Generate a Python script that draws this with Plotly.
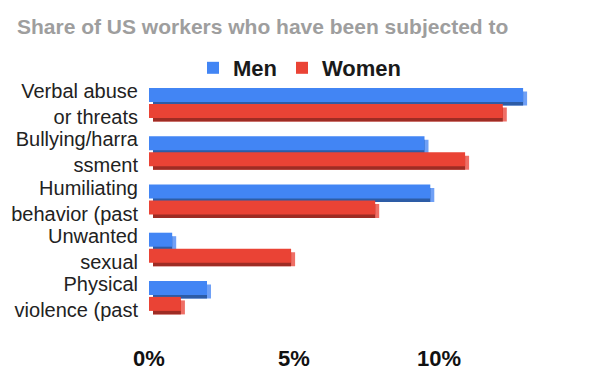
import plotly.graph_objects as go

# ---- data ----
categories = [
    "Verbal abuse<br>or threats",
    "Bullying/harra<br>ssment",
    "Humiliating<br>behavior (past",
    "Unwanted<br>sexual",
    "Physical<br>violence (past",
]
men = [12.9, 9.5, 9.7, 0.8, 2.0]
women = [12.2, 10.9, 7.8, 4.9, 1.1]
series_names = ["Men", "Women"]
tick_vals = [0, 5, 10]
tick_text = ["0%", "5%", "10%"]

# ---- styling ----
FONT = "Liberation Sans, Arial, sans-serif"
front_colors = ["#4285F4", "#EA4335"]
side_colors = ["#6FA0F6", "#EF6F66"]
bottom_colors = ["#2D5CA6", "#9E2C24"]

W, H = 600, 371
ML, MR, MT, MB = 149, 16, 80, 50
XMAX = 15
px_x = (W - ML - MR) / XMAX          # pixels per percent
px_y = (H - MT - MB) / len(categories)  # pixels per category band

depth_x = 4 / px_x      # extrusion to the right (data units)
depth_y = 3.5 / px_y    # extrusion downwards (category units)
bar_w = 14 / px_y
offsets = [-16 / px_y, 0.0]

fig = go.Figure()
for i, (name, vals) in enumerate(zip(series_names, [men, women])):
    off = offsets[i]
    # side face (lighter)
    fig.add_trace(go.Bar(
        y=categories, x=vals, base=[depth_x] * len(vals), orientation="h",
        offset=off + depth_y, width=bar_w, marker=dict(color=side_colors[i], line=dict(width=0)),
        showlegend=False, hoverinfo="skip"))
    # bottom face (darker)
    fig.add_trace(go.Bar(
        y=categories, x=[max(v - depth_x, 0) for v in vals], base=[depth_x] * len(vals),
        orientation="h", offset=off + depth_y, width=bar_w,
        marker=dict(color=bottom_colors[i], line=dict(width=0)),
        showlegend=False, hoverinfo="skip"))
    # front face
    fig.add_trace(go.Bar(
        y=categories, x=vals, orientation="h", name=name,
        offset=off, width=bar_w, marker=dict(color=front_colors[i], line=dict(width=0))))

fig.update_layout(
    width=W, height=H,
    margin=dict(l=ML, r=MR, t=MT, b=MB, autoexpand=False),
    barmode="overlay",
    paper_bgcolor="white", plot_bgcolor="white",
    font=dict(family=FONT, color="#222222"),
    title=dict(text="Share of US workers who have been subjected to",
               x=17 / W, xref="container", xanchor="left",
               y=1 - 27 / H, yref="container", yanchor="middle",
               font=dict(family=FONT, size=21, color="#9E9E9E", weight="bold")),
    legend=dict(orientation="h", x=0.5, xref="container", xanchor="center",
                y=1 - 68 / H, yref="container", yanchor="middle",
                bgcolor="rgba(0,0,0,0)",
                font=dict(family=FONT, size=22, color="#1a1a1a", weight="bold"),
                traceorder="normal", itemwidth=30),
    xaxis=dict(range=[0, XMAX], tickvals=tick_vals, ticktext=tick_text,
               showgrid=False, zeroline=False, showline=False, automargin=False,
               ticklabelstandoff=22,
               tickfont=dict(family=FONT, size=22, color="#111111", weight="bold")),
    yaxis=dict(range=[len(categories) - 0.5, -0.5], type="category",
               showgrid=False, zeroline=False, showline=False, automargin=False,
               ticklabelstandoff=10,
               tickfont=dict(family=FONT, size=20, color="#222222")),
)

fig.write_html("out.html", config={"displayModeBar": False},
               post_script="document.body.style.margin='0';")
